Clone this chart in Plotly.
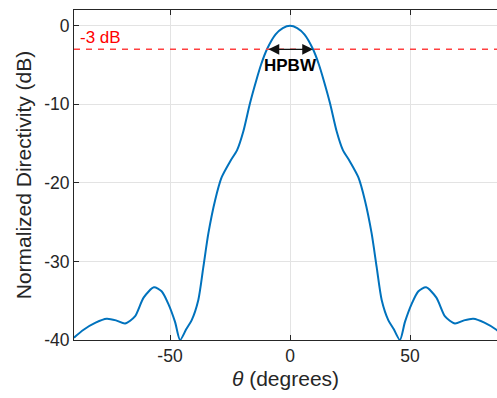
import plotly.graph_objects as go

theta = [-90, -86, -81, -76.4, -72.5, -68.7, -64.6, -61, -56.7, -53.5, -50.7, -47.9, -45.8,
         -43.2, -41, -38.2, -36.1, -34, -31.2, -28.5, -25, -22, -19.4, -16.7, -14, -12, -9.6,
         -6, -3, 0,
         3, 6, 9.6, 12, 14, 16.7, 19.4, 22, 25, 28.5, 31.2, 34, 36.1, 38.2, 41, 43.2,
         45.8, 47.9, 50.7, 53.5, 56.7, 61, 64.6, 68.7, 72.5, 76.4, 81, 86, 90]
directivity = [-39.7, -38.7, -37.8, -37.3, -37.5, -37.9, -37.0, -34.6, -33.3, -33.8, -35.4, -37.7, -40.0,
               -38.6, -37.5, -34.9, -30.7, -26.4, -22.2, -19.3, -17.3, -15.8, -13.4, -9.9, -6.9, -4.9, -3.0,
               -1.1, -0.3, 0.0,
               -0.3, -1.1, -3.0, -4.9, -6.9, -9.9, -13.4, -15.8, -17.3, -19.3, -22.2, -26.4, -30.7, -34.9, -37.5, -38.6,
               -40.0, -37.7, -35.4, -33.8, -33.3, -34.6, -37.0, -37.9, -37.5, -37.3, -37.8, -38.7, -39.7]

x_ticks = [-50, 0, 50]
x_tick_labels = ["-50", "0", "50"]
y_ticks = [0, -10, -20, -30, -40]
y_tick_labels = ["0", "-10", "-20", "-30", "-40"]
hp_level = -3
hpbw_left, hpbw_right = -9.6, 9.6

font_family = "Liberation Sans, Arial, sans-serif"

fig = go.Figure()
fig.add_trace(go.Scatter(x=theta, y=directivity, mode="lines",
                         line=dict(color="#0072BD", width=2, shape="spline", smoothing=0.7),
                         showlegend=False, hoverinfo="skip"))
fig.add_trace(go.Scatter(x=[-90, 90], y=[hp_level, hp_level], mode="lines",
                         line=dict(color="#FF4040", width=1.5, dash="6px,6px"),
                         showlegend=False, hoverinfo="skip"))

fig.add_annotation(x=hpbw_right, y=hp_level, ax=hpbw_left, ay=hp_level,
                   xref="x", yref="y", axref="x", ayref="y", text="",
                   showarrow=True, arrowhead=2, arrowside="end+start",
                   arrowsize=1.8, arrowwidth=1.2, arrowcolor="#111111")
fig.add_annotation(x=0, y=-5.0, xref="x", yref="y", text="<b>HPBW</b>", showarrow=False,
                   font=dict(family=font_family, size=17, color="#000000"))
fig.add_annotation(x=-88.5, y=-1.5, xref="x", yref="y", text="-3 dB", showarrow=False,
                   xanchor="left", yanchor="middle",
                   font=dict(family=font_family, size=17, color="#FF0000"))

fig.update_layout(
    width=497, height=398,
    margin=dict(l=74, r=0, t=10, b=58),
    paper_bgcolor="white", plot_bgcolor="white",
    font=dict(family=font_family, color="#262626"),
    xaxis=dict(range=[-90, 86.25], tickvals=x_ticks, ticktext=x_tick_labels,
               ticks="inside", ticklen=5,
               tickcolor="#262626", showline=True, linecolor="#262626", linewidth=1,
               mirror="ticks", showgrid=True, gridcolor="#E3E3E3", gridwidth=1,
               zeroline=False, tickfont=dict(size=17.5),
               title=dict(text="<i>θ</i> (degrees)", font=dict(size=21), standoff=6)),
    yaxis=dict(range=[-40, 2], tickvals=y_ticks, ticktext=y_tick_labels,
               ticks="inside", ticklen=5,
               tickcolor="#262626", showline=True, linecolor="#262626", linewidth=1,
               mirror=False, showgrid=True, gridcolor="#E3E3E3", gridwidth=1,
               zeroline=False, tickfont=dict(size=17.5),
               title=dict(text="Normalized Directivity (dB)", font=dict(size=21), standoff=6)),
)

fig.write_html("out.html")
